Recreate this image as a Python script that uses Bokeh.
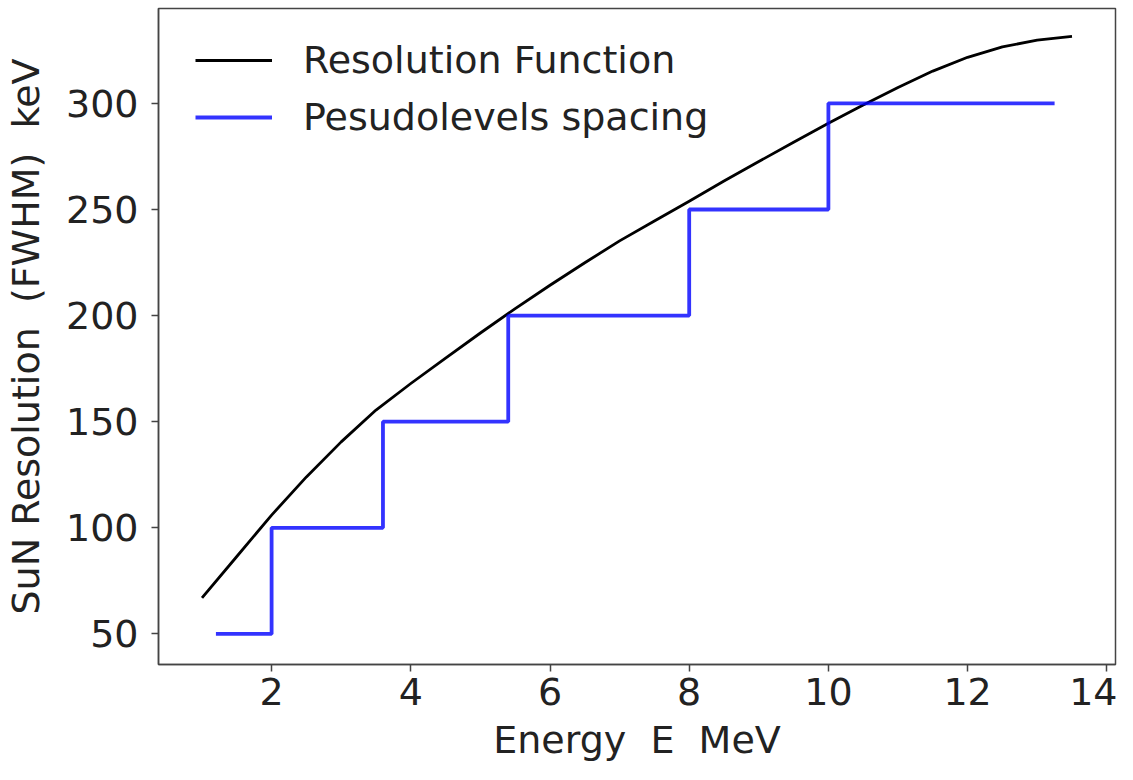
from bokeh.plotting import figure
from bokeh.embed import file_html
from bokeh.resources import INLINE
from bokeh.models import Legend, LegendItem, FixedTicker

# Resolution function
energy = [1.0, 1.5, 2.0, 2.5, 3.0, 3.5, 4.0, 4.5, 5.0, 5.5, 6.0, 6.5, 7.0,
          7.5, 8.0, 8.5, 9.0, 9.5, 10.0, 10.5, 11.0, 11.5, 12.0, 12.5, 13.0, 13.5]
fwhm = [67, 86.5, 106, 124, 140.5, 155.5, 168, 180, 191.8, 203.3, 214.3, 224.9, 235.2,
        244.6, 253.9, 263.4, 272.6, 281.7, 290.6, 299.2, 307.5, 315.2, 321.7, 326.6, 329.8, 331.6]

# Pseudolevel spacing steps
step_x = [1.2, 2.0, 3.6, 5.4, 8.0, 10.0, 13.25]
step_y = [50, 100, 150, 200, 250, 300, 300]

x_ticks = [2, 4, 6, 8, 10, 12, 14]
y_ticks = [50, 100, 150, 200, 250, 300]

FONT = "DejaVu Sans"
FS = "38px"
TXT = "#222222"
SPINE = "#444444"
FRAME_H = 656

p = figure(frame_width=957, frame_height=FRAME_H, x_range=(0.375, 14.125), y_range=(35.6, 344.7),
           output_backend="svg", toolbar_location=None,
           min_border_left=158, min_border_top=8, min_border_right=2, min_border_bottom=60)
p.background_fill_color = "white"
p.border_fill_color = "white"
p.grid.visible = False
p.outline_line_color = SPINE
p.outline_line_width = 1.5

l1 = p.line(energy, fwhm, line_color="black", line_width=2.8, line_join="round")
l2 = p.step(step_x, step_y, mode="after", line_color="blue", line_alpha=0.8, line_width=3.8)

for ax in (p.xaxis[0], p.yaxis[0]):
    ax.axis_line_color = SPINE
    ax.axis_line_width = 1.5
    ax.major_tick_line_color = SPINE
    ax.major_tick_line_width = 1.5
    ax.major_tick_out = 7
    ax.major_tick_in = 0
    ax.minor_tick_line_color = None
    ax.major_label_text_font = FONT
    ax.major_label_text_font_size = FS
    ax.major_label_text_color = TXT
    ax.axis_label_text_font = FONT
    ax.axis_label_text_font_size = FS
    ax.axis_label_text_font_style = "normal"
    ax.axis_label_text_color = TXT

p.xaxis.ticker = FixedTicker(ticks=x_ticks)
p.yaxis.ticker = FixedTicker(ticks=y_ticks)
p.xaxis.axis_label = "Energy \u00a0E \u00a0MeV"
p.yaxis.axis_label = "SuN Resolution \u00a0(FWHM) \u00a0keV"
p.xaxis.major_label_standoff = 6
p.xaxis.axis_label_standoff = 10
p.yaxis.major_label_standoff = 13
p.yaxis.axis_label_standoff = 15

PAD = 29
legend = Legend(items=[LegendItem(label="Resolution Function", renderers=[l1]),
                       LegendItem(label="Pesudolevels spacing", renderers=[l2])],
                location=(8, FRAME_H - 160))
legend.border_line_alpha = 0
legend.background_fill_alpha = 0
legend.margin = 0
legend.padding = PAD
legend.glyph_width = 77
legend.glyph_height = 40
legend.label_standoff = 31
legend.spacing = 13
legend.label_text_font = FONT
legend.label_text_font_size = FS
legend.label_text_color = TXT
p.add_layout(legend)

open("out.html", "w").write(file_html(p, INLINE))
